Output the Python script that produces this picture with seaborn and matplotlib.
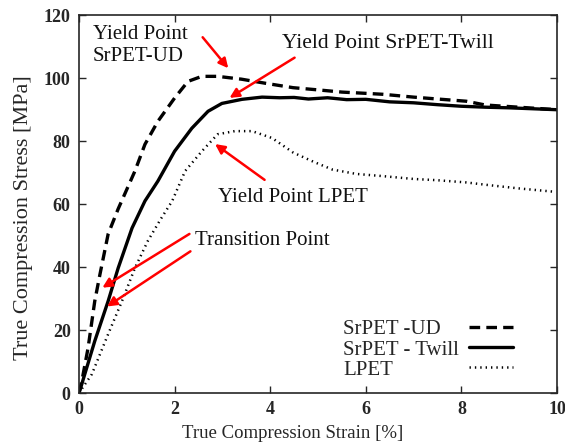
import numpy as np
import pandas as pd
import matplotlib
matplotlib.use("Agg")
import matplotlib.pyplot as plt
import seaborn as sns
from matplotlib.lines import Line2D

# Curves
ud_strain = [0, 0.06, 0.19, 0.33, 0.44, 0.61, 0.82, 1.17, 1.38, 1.65, 2.0, 2.28, 2.57, 2.9, 3.4, 3.9, 4.48, 5.0, 5.5, 6.0, 6.36, 7.0, 7.5, 8.1, 8.5, 9.0, 9.5, 10.0]
ud_stress = [0, 3.8, 14.3, 29.2, 37.8, 50.5, 58.5, 70.5, 79, 86.3, 93.7, 99, 100.6, 100.6, 99.7, 98.4, 97, 96.3, 95.6, 95.2, 94.9, 94, 93.4, 92.7, 91.5, 91, 90.5, 90]

tw_strain = [0, 0.06, 0.33, 0.61, 0.82, 1.11, 1.38, 1.65, 2.0, 2.36, 2.7, 2.99, 3.41, 3.83, 4.2, 4.5, 4.8, 5.2, 5.6, 6.0, 6.5, 7.0, 7.5, 8.0, 8.5, 9.0, 9.5, 10.0]
tw_stress = [0, 2.9, 16.5, 29.2, 39.7, 52.4, 61, 67.3, 76.8, 84.1, 89.5, 92, 93.3, 94, 93.8, 93.9, 93.4, 93.8, 93.2, 93.3, 92.5, 92.2, 91.6, 91.1, 90.8, 90.6, 90.3, 90.0]

lp_strain = [0, 0.27, 0.61, 0.9, 1.17, 1.44, 1.7, 1.95, 2.22, 2.57, 2.9, 3.26, 3.62, 4.04, 4.48, 4.9, 5.3, 5.8, 6.36, 7.0, 7.5, 8.1, 8.6, 9.2, 9.9]
lp_stress = [0, 6, 18.7, 29.2, 39.7, 48.3, 55, 61, 70.5, 76.8, 82.2, 83.2, 83.2, 81, 76.4, 73.5, 71, 69.6, 68.9, 68, 67.6, 66.9, 66, 65, 64]

labels = ["SrPET -UD", "SrPET - Twill", "LPET"]

sns.set_style("ticks")
plt.rcParams['font.family'] = ['Liberation Serif', 'DejaVu Serif']

fig = plt.figure(figsize=(5.65, 4.47), dpi=100)
ax = fig.add_axes([0.1398, 0.1208, 0.846, 0.845])

styles = [dict(lw=2.4, linestyle=(0, (3.2, 1.85))),
          dict(lw=2.4, linestyle="-"),
          dict(lw=1.8, linestyle=(0, (0.55, 1.6)))]
sns.lineplot(x=ud_strain, y=ud_stress, ax=ax, color="black", **styles[0])
sns.lineplot(x=tw_strain, y=tw_stress, ax=ax, color="black", **styles[1])
sns.lineplot(x=lp_strain, y=lp_stress, ax=ax, color="black", **styles[2])

ax.set_xlim(0, 10)
ax.set_ylim(0, 120)
ax.set_xticks(range(0, 11, 2))
ax.set_yticks(range(0, 121, 20))
ax.tick_params(direction="in", top=True, right=True, length=5, width=1,
               labelsize=13, pad=6)
for t in ax.get_xticklabels() + ax.get_yticklabels():
    t.set_fontweight("bold")
for s in ax.spines.values():
    s.set_linewidth(1.2)
ax.set_xlabel("True Compression Strain [%]", fontsize=13.5)
ax.set_ylabel("True Compression Stress [MPa]", fontsize=16)
ax.xaxis.set_label_coords(0.447, -0.085)
ax.yaxis.set_label_coords(-0.097, 0.463)

# legend: labels left aligned, samples in a column to the right (gnuplot style)
lkw = dict(frameon=False, fontsize=15, labelspacing=0.03, borderpad=0,
           borderaxespad=0)
samples = [Line2D([], [], color="black", **st) for st in styles]
blank = [Line2D([], [], alpha=0) for _ in labels]
leg_h = ax.legend(samples, ["", "", ""], loc="lower right",
                  bbox_to_anchor=(0.907, 0.035), handlelength=2.1,
                  handletextpad=0, **lkw)
ax.add_artist(leg_h)
ax.legend(blank, labels, loc="lower right", bbox_to_anchor=(0.795, 0.035),
          handlelength=0, handletextpad=0, **lkw)

arrow = dict(arrowstyle="-|>", color="red", lw=1.8, mutation_scale=14)
txt = dict(fontsize=15, color="#111111")
ax.text(0.29, 110.3, "Yield Point\nSrPET-UD", ha="left", va="center",
        linespacing=1.2, **txt)
ax.annotate("", xy=(3.16, 102.5), xytext=(2.55, 113.7), arrowprops=arrow)
ax.text(4.25, 111, "Yield Point SrPET-Twill", ha="left", va="center",
        fontsize=15.6, color="#111111")
ax.annotate("", xy=(3.1, 93.3), xytext=(4.56, 107), arrowprops=arrow)
ax.text(2.91, 62, "Yield Point LPET", ha="left", va="center", **txt)
ax.annotate("", xy=(2.8, 79.6), xytext=(3.93, 67.2), arrowprops=arrow)
ax.text(2.43, 48.5, "Transition Point", ha="left", va="center", **txt)
ax.annotate("", xy=(0.44, 33), xytext=(2.36, 51), arrowprops=arrow)
ax.annotate("", xy=(0.54, 27), xytext=(2.38, 45.5), arrowprops=arrow)

fig.savefig("out.png", dpi=100)
